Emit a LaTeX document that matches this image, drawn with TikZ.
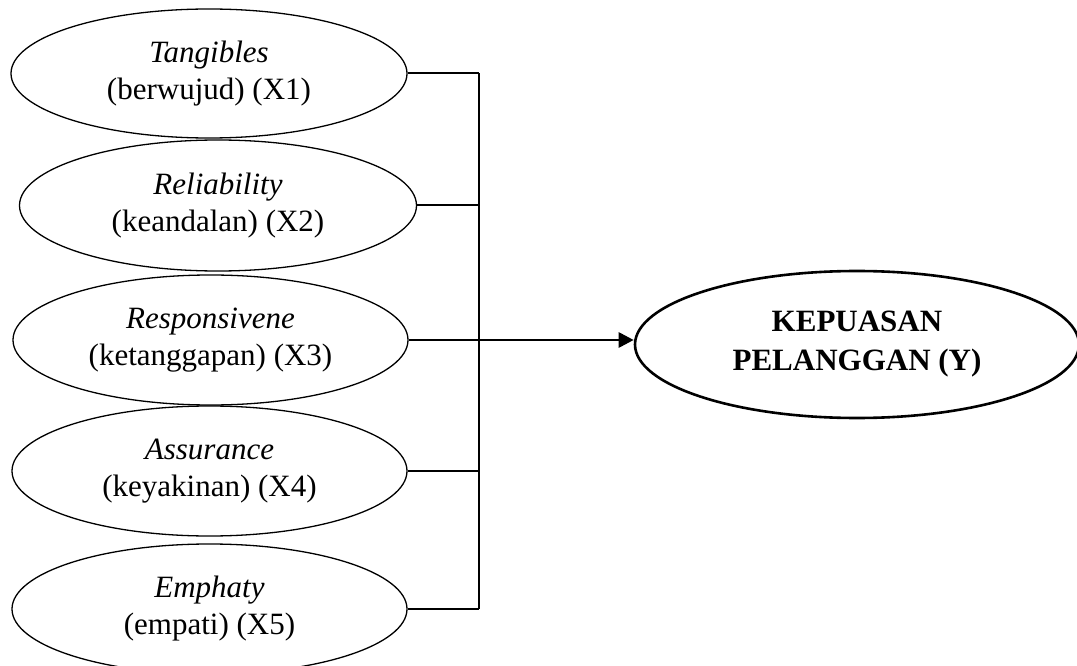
\documentclass[tikz,border=0pt]{standalone}
\usepackage{fontspec}
\setmainfont{Liberation Serif}
\usetikzlibrary{shapes.geometric,arrows.meta}
\begin{document}
\begin{tikzpicture}[x=1pt,y=-1pt,
  dim/.style={draw,ellipse,inner sep=0pt,line width=1.3pt,align=center,
    font=\fontsize{31}{37}\selectfont},
  target/.style={draw,ellipse,inner sep=0pt,line width=2.6pt,align=center,
    font=\fontsize{31}{39}\selectfont\bfseries},
  link/.style={line width=2pt},
  arr/.style={line width=2.8pt,-{Triangle[length=15pt,width=15pt]}}]
\useasboundingbox (0,0) rectangle (1077,666);
\clip (0,0) rectangle (1077,666);
\node[dim,minimum width=396pt,minimum height=129pt] (e1) at (209,73.5) {\textit{Tangibles}\\(berwujud) (X1)};
\node[dim,minimum width=397pt,minimum height=131pt] (e2) at (218,205.5) {\textit{Reliability}\\(keandalan) (X2)};
\node[dim,minimum width=395pt,minimum height=130pt] (e3) at (210.5,340) {\textit{Responsivene}\\(ketanggapan) (X3)};
\node[dim,minimum width=395pt,minimum height=130pt] (e4) at (209.5,471) {\textit{Assurance}\\(keyakinan) (X4)};
\node[dim,minimum width=395pt,minimum height=130pt] (e5) at (209.5,609) {\textit{Emphaty}\\(empati) (X5)};
\node[target,minimum width=444pt,minimum height=147pt] (y) at (857,344.5) {KEPUASAN\\PELANGGAN (Y)};
\coordinate (bus) at (479,0);
\draw[link] (e1.east) -- (e1.east -| bus);
\draw[link] (e2.east) -- (e2.east -| bus);
\draw[link] (e3.east) -- (e3.east -| bus);
\draw[link] (e4.east) -- (e4.east -| bus);
\draw[link] (e5.east) -- (e5.east -| bus);
\draw[link] (e1.east -| bus) -- (e5.east -| bus);
\draw[arr] (e3.east -| bus) -- (e3.east -| y.west);
\end{tikzpicture}
\end{document}
